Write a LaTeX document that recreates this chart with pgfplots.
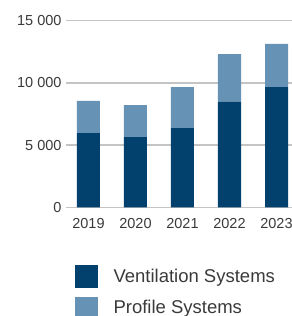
\documentclass[border=0pt]{standalone}
\usepackage{fontspec}
\setmainfont{Liberation Sans}
\usepackage{pgfplots}
\pgfplotsset{compat=1.18}
\definecolor{ventblue}{HTML}{02406E}
\definecolor{profblue}{HTML}{6592B5}
\definecolor{gridgray}{HTML}{C4C4C4}
\definecolor{textgray}{HTML}{3A3A3A}
\begin{document}
\begin{tikzpicture}
\path[use as bounding box] (0,0) rectangle (292bp,316bp);
\begin{axis}[
  at={(65.7bp,108.7bp)}, anchor=south west,
  scale only axis, width=234.3bp, height=186.6bp,
  xmin=-0.485, xmax=4.5, ymin=0, ymax=15000,
  scaled y ticks=false,
  ybar stacked, bar width=23bp,
  axis line style={draw=none},
  major tick length=0pt,
  ymajorgrids, grid style={gridgray, line width=1.5bp},
  xtick={0,1,2,3,4}, xticklabels={2019,2020,2021,2022,2023},
  ytick={0,5000,10000,15000}, yticklabels={0,5 000,10 000,15 000},
  tick label style={font=\fontsize{14.5bp}{17bp}\selectfont, text=textgray},
  yticklabel style={inner sep=0pt, xshift=-4bp},
  xticklabel style={inner sep=0pt, anchor=north, yshift=-11bp},
  legend style={draw=none, fill=none, inner sep=0pt, at={(0.0397,-0.309)}, anchor=north west,
    row sep=8.7bp, font=\fontsize{18.5bp}{22bp}\selectfont, text=textgray,
    nodes={inner sep=0pt},
    /tikz/every odd column/.append style={column sep=15.3bp}},
  legend cell align=left,
  legend image code/.code={\fill[#1] (0bp,-11.85bp) rectangle (23bp,11.15bp);},
]
\addplot[fill=ventblue, draw=none] coordinates {(0,5970) (1,5650) (2,6370) (3,8500) (4,9670)};
\addplot[fill=profblue, draw=none] coordinates {(0,2580) (1,2570) (2,3300) (3,3820) (4,3460)};
\legend{Ventilation Systems, Profile Systems}
\end{axis}
\end{tikzpicture}
\end{document}
